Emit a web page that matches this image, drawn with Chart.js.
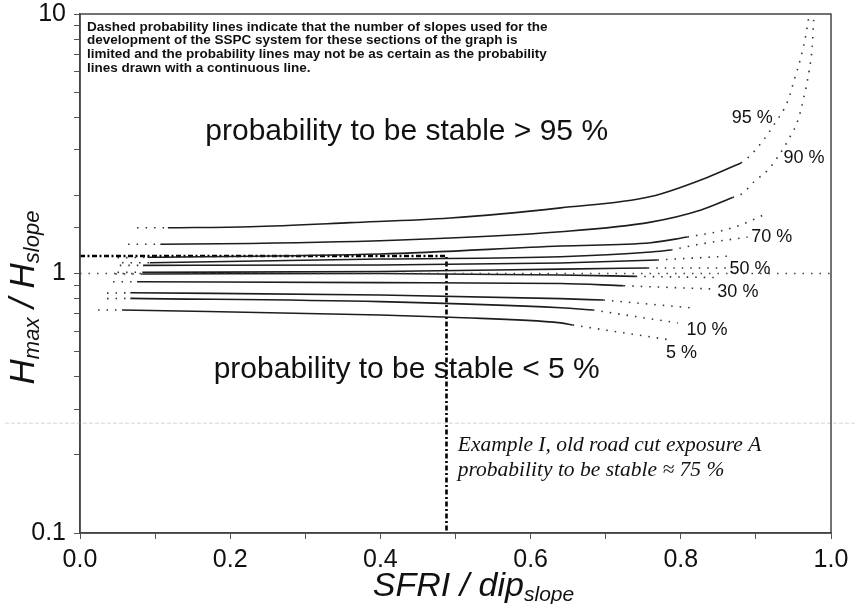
<!DOCTYPE html>
<html>
<head>
<meta charset="utf-8">
<script src="https://cdn.jsdelivr.net/npm/chart.js@4.4.1/dist/chart.umd.min.js"></script>
<style>
  html, body { margin: 0; padding: 0; background: #fff; }
  #wrap { width: 855px; height: 604px; position: relative; }
</style>
</head>
<body>
<div id="wrap"><canvas id="sspcChart"></canvas></div>
<script>
// SSPC probability chart: Hmax/Hslope against SFRI/dip(slope)

// probability lines, [x, y] pairs
// each line has a short dotted start, a solid middle and a dotted end
const p95Start = [[0.076, 1.50], [0.117, 1.50]];
const p95Solid = [[0.117, 1.50], [0.227, 1.515], [0.36, 1.57], [0.493, 1.636], [0.64, 1.79], [0.76, 1.98], [0.836, 2.35], [0.88, 2.666]];
const p95End = [[0.88, 2.666], [0.889, 2.79], [0.907, 3.18], [0.924, 3.74], [0.943, 4.66], [0.951, 5.57], [0.96, 6.83], [0.967, 8.45], [0.971, 10]];

const p90Start = [[0.064, 1.296], [0.107, 1.296]];
const p90Solid = [[0.107, 1.296], [0.227, 1.305], [0.427, 1.346], [0.64, 1.449], [0.76, 1.578], [0.827, 1.757], [0.869, 1.963]];
const p90End = [[0.869, 1.963], [0.883, 2.043], [0.897, 2.252], [0.916, 2.505], [0.929, 2.811], [0.943, 3.268], [0.956, 3.904], [0.964, 4.787], [0.971, 6.083], [0.975, 7.461], [0.977, 9.48], [0.978, 10]];

const p80Start = [[0.05, 1.15], [0.09, 1.155]];
const p80Solid = [[0.09, 1.155], [0.4, 1.189], [0.64, 1.276], [0.76, 1.314], [0.809, 1.382]];
const p80End = [[0.809, 1.382], [0.853, 1.458], [0.88, 1.54], [0.91, 1.68]];

const p70Start = [[0.056, 1.10], [0.093, 1.10]];
const p70Solid = [[0.093, 1.10], [0.4, 1.137], [0.64, 1.16], [0.76, 1.21], [0.787, 1.232]];
const p70End = [[0.787, 1.232], [0.827, 1.30], [0.889, 1.382]];

const p60Start = [[0.053, 1.075], [0.084, 1.075]];
const p60Solid = [[0.084, 1.075], [0.4, 1.078], [0.64, 1.098], [0.769, 1.127]];
const p60End = [[0.769, 1.127], [0.867, 1.168]];

const p50Start = [[0.05, 1.01], [0.083, 1.011]];
const p50Solid = [[0.083, 1.011], [0.4, 1.018], [0.64, 1.04], [0.756, 1.05]];
const p50End = [[0.756, 1.05], [0.86, 1.05]];

const p40Start = [[0.047, 0.996], [0.083, 0.996]];
const p40Solid = [[0.083, 0.996], [0.4, 1.0], [0.64, 0.987], [0.74, 0.975]];
const p40End = [[0.74, 0.975], [0.847, 0.965]];

const p30Start = [[0.044, 0.93], [0.076, 0.93]];
const p30Solid = [[0.076, 0.93], [0.4, 0.922], [0.64, 0.915], [0.724, 0.897]];
const p30End = [[0.724, 0.897], [0.84, 0.872]];

const p20Start = [[0.036, 0.84], [0.067, 0.843]];
const p20Solid = [[0.067, 0.843], [0.4, 0.826], [0.64, 0.80], [0.697, 0.79]];
const p20End = [[0.697, 0.79], [0.817, 0.736]];

const p10Start = [[0.036, 0.80], [0.067, 0.802]];
const p10Solid = [[0.067, 0.802], [0.4, 0.779], [0.64, 0.738], [0.683, 0.723]];
const p10End = [[0.683, 0.723], [0.796, 0.645]];

const p5Start = [[0.024, 0.723], [0.056, 0.723]];
const p5Solid = [[0.056, 0.723], [0.4, 0.692], [0.493, 0.678], [0.64, 0.645], [0.656, 0.633]];
const p5End = [[0.656, 0.633], [0.787, 0.554]];

// reference lines
const unityLine = [[0, 1], [1, 1]];
const exampleLine = [[0, 1.168], [0.488, 1.168], [0.488, 0.1]];
const scanLine = [[-0.1, 0.265], [1.033, 0.265]];

// labels
const pctLabels = ['95 %', '90 %', '70 %', '50 %', '30 %', '10 %', '5 %'];
const pctLabelX = [0.895, 0.964, 0.921, 0.892, 0.876, 0.835, 0.801];
const pctLabelY = [3.975, 2.787, 1.382, 1.041, 0.849, 0.606, 0.494];
const regionLabels = ['probability to be stable > 95 %', 'probability to be stable < 5 %'];
const regionLabelX = [0.435, 0.435];
const regionLabelY = [3.51, 0.4247];
const exampleText = ['Example I, old road cut exposure A', 'probability to be stable \u2248 75 %'];
const exampleTextX = 0.503;
const exampleTextY = [0.218, 0.175];
const noteLines = [
    'Dashed probability lines indicate that the number of slopes used for the',
    'development of the SSPC system for these sections of the graph is',
    'limited and the probability lines may not be as certain as the probability',
    'lines drawn with a continuous line.'
];

const xTickLabels = ['0.0', '0.2', '0.4', '0.6', '0.8', '1.0'];
const yTickLabels = ['0.1', '1', '10'];

const toPts = arr => arr.map(([x, y]) => ({ x: x, y: y }));

function solid(arr) {
    return { data: toPts(arr), borderColor: '#1d1d1d', borderWidth: 1.6, pointRadius: 0, cubicInterpolationMode: 'monotone', fill: false };
}
function dotted(arr) {
    return { data: toPts(arr), borderColor: '#333', borderWidth: 1.6, borderDash: [1.5, 7], pointRadius: 0, cubicInterpolationMode: 'monotone', fill: false };
}

const datasets = [
    { data: toPts(scanLine), borderColor: '#d4d4d4', borderWidth: 1, borderDash: [4, 2], pointRadius: 0, clip: false, tension: 0 },
    { data: toPts(unityLine), borderColor: '#444', borderWidth: 1.5, borderDash: [1.5, 7], pointRadius: 0, tension: 0 },
    dotted(p95Start), solid(p95Solid), dotted(p95End),
    dotted(p90Start), solid(p90Solid), dotted(p90End),
    dotted(p80Start), solid(p80Solid), dotted(p80End),
    dotted(p70Start), solid(p70Solid), dotted(p70End),
    dotted(p60Start), solid(p60Solid), dotted(p60End),
    dotted(p50Start), solid(p50Solid), dotted(p50End),
    dotted(p40Start), solid(p40Solid), dotted(p40End),
    dotted(p30Start), solid(p30Solid), dotted(p30End),
    dotted(p20Start), solid(p20Solid), dotted(p20End),
    dotted(p10Start), solid(p10Solid), dotted(p10End),
    dotted(p5Start), solid(p5Solid), dotted(p5End),
    { data: toPts(exampleLine), borderColor: '#000', borderWidth: 2.6, borderDash: [5, 2.5, 2, 2.5], pointRadius: 0, tension: 0 }
];

// text drawn on the canvas: frame, labels, titles with subscripts
function drawSub(ctx, parts, x, y) {
    // parts: [text, size, subscript?]
    let cx = x;
    parts.forEach(([t, size, sub]) => {
        ctx.font = 'italic ' + size + 'px "Liberation Sans", Arial, sans-serif';
        ctx.fillText(t, cx, sub ? y + 5 : y);
        cx += ctx.measureText(t).width;
    });
}
function subWidth(ctx, parts) {
    let w = 0;
    parts.forEach(([t, size]) => {
        ctx.font = 'italic ' + size + 'px "Liberation Sans", Arial, sans-serif';
        w += ctx.measureText(t).width;
    });
    return w;
}

const annotations = {
    id: 'annotations',
    afterDatasetsDraw(chart) {
        const { ctx, chartArea: a, scales } = chart;
        const x = scales.x, y = scales.y;
        ctx.save();
        ctx.strokeStyle = '#444';
        ctx.lineWidth = 1.5;
        ctx.strokeRect(a.left, a.top, a.right - a.left, a.bottom - a.top);

        ctx.fillStyle = '#111';
        ctx.textBaseline = 'middle';

        // note in the top left corner
        ctx.font = 'bold 13.5px "Liberation Sans", Arial, sans-serif';
        ctx.textAlign = 'left';
        noteLines.forEach((t, i) => ctx.fillText(t, a.left + 7, a.top + 13 + i * 13.7));

        // region labels
        ctx.font = '30px "Liberation Sans", Arial, sans-serif';
        ctx.textAlign = 'center';
        regionLabels.forEach((t, i) => ctx.fillText(t, x.getPixelForValue(regionLabelX[i]), y.getPixelForValue(regionLabelY[i])));

        // probability labels
        ctx.font = '18px "Liberation Sans", Arial, sans-serif';
        pctLabels.forEach((t, i) => ctx.fillText(t, x.getPixelForValue(pctLabelX[i]), y.getPixelForValue(pctLabelY[i])));

        // example
        ctx.font = 'italic 21.5px "Liberation Serif", "Times New Roman", serif';
        ctx.textAlign = 'left';
        exampleText.forEach((t, i) => ctx.fillText(t, x.getPixelForValue(exampleTextX), y.getPixelForValue(exampleTextY[i])));

        // axis titles
        ctx.textBaseline = 'alphabetic';
        const xParts = [['SFRI / dip', 34, false], ['slope', 21, true]];
        const xw = subWidth(ctx, xParts);
        drawSub(ctx, xParts, (a.left + a.right) / 2 + 18 - xw / 2, a.bottom + 63);

        const yParts = [['H', 35, false], ['max', 22, true], [' / H', 35, false], ['slope', 22, true]];
        const yw = subWidth(ctx, yParts);
        ctx.translate(34, (a.top + a.bottom) / 2 + 24);
        ctx.rotate(-Math.PI / 2);
        drawSub(ctx, yParts, -yw / 2, 0);
        ctx.restore();
    }
};

const isPow10 = v => Math.abs(Math.log10(v) - Math.round(Math.log10(v))) < 1e-6;

const ctx = document.getElementById('sspcChart').getContext('2d');
new Chart(ctx, {
    type: 'line',
    data: { datasets: datasets },
    options: {
        responsive: true,
        maintainAspectRatio: false,
        animation: false,
        layout: { padding: { top: 14, right: 24, left: 0, bottom: 0 } },
        plugins: { legend: { display: false }, tooltip: { enabled: false } },
        scales: {
            x: {
                type: 'linear',
                min: 0,
                max: 1,
                afterFit: s => { s.height = 71; },
                grid: { drawOnChartArea: false, drawTicks: true, tickLength: 6, color: '#555' },
                border: { display: true, color: '#444', width: 1.5 },
                ticks: {
                    stepSize: 0.1,
                    autoSkip: false,
                    maxRotation: 0,
                    padding: 6,
                    color: '#111',
                    font: { family: '"Liberation Sans", Arial, sans-serif', size: 25 },
                    callback: (v) => {
                        const i = Math.round(v * 5);
                        return Math.abs(v * 5 - i) < 1e-6 ? xTickLabels[i] : '';
                    }
                }
            },
            y: {
                type: 'logarithmic',
                min: 0.1,
                max: 10,
                afterFit: s => { s.width = 80; s.paddingTop = 0; s.paddingBottom = 0; },
                grid: { drawOnChartArea: false, drawTicks: true, tickLength: 6, color: '#555' },
                border: { display: true, color: '#444', width: 1.5 },
                ticks: {
                    autoSkip: false,
                    padding: 8,
                    color: '#111',
                    font: { family: '"Liberation Sans", Arial, sans-serif', size: 25 },
                    callback: (v) => isPow10(v) ? yTickLabels[Math.round(Math.log10(v)) + 1] : ''
                }
            }
        }
    },
    plugins: [annotations]
});
</script>
</body>
</html>
